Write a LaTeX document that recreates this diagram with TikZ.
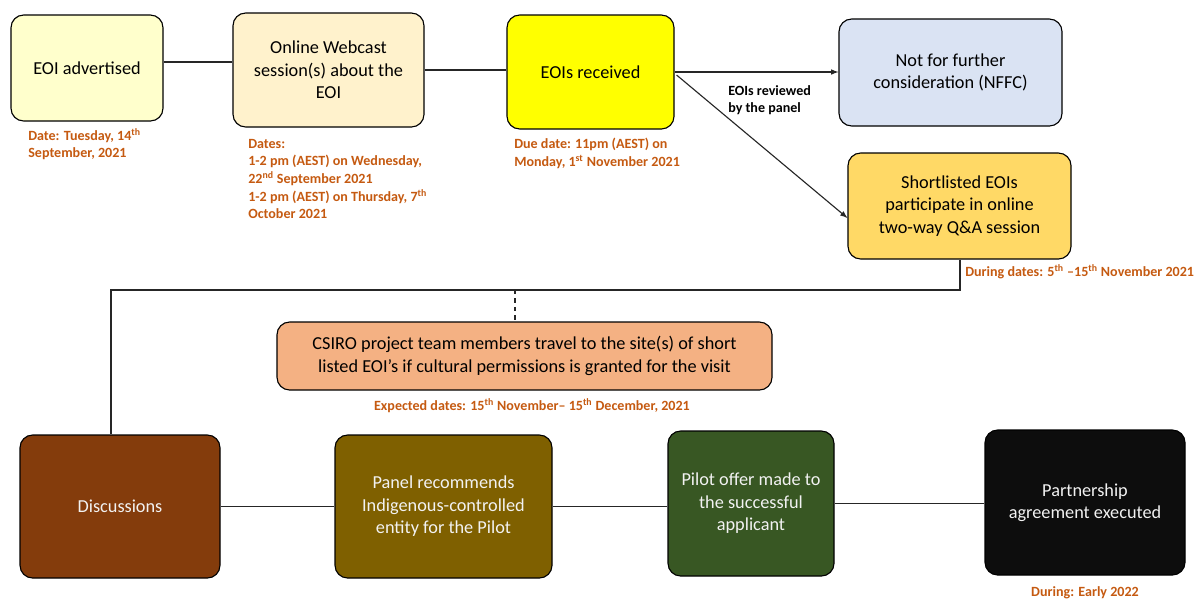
\documentclass[tikz,border=0pt]{standalone}
\usepackage{fontspec}
\setmainfont{Carlito}
\usepackage{xcolor}
\usetikzlibrary{arrows, calc}

\definecolor{advfill}{HTML}{FFFFCC}
\definecolor{webfill}{HTML}{FFF2CC}
\definecolor{recvfill}{HTML}{FFFF00}
\definecolor{nffcfill}{HTML}{DAE3F3}
\definecolor{shortfill}{HTML}{FFD966}
\definecolor{csirofill}{HTML}{F4B183}
\definecolor{discfill}{HTML}{843C0C}
\definecolor{panelfill}{HTML}{7F6000}
\definecolor{pilotfill}{HTML}{385723}
\definecolor{partfill}{HTML}{0D0D0D}
\definecolor{dateorange}{HTML}{C55A11}

\def\px{0.025cm}

\begin{document}
\begin{tikzpicture}[x=\px, y=-\px, >=latex,
	stage/.style 2 args={draw=black, line width=0.8pt, rounded corners=9pt, inner sep=0pt, align=center, font=\fontsize{13}{16}\selectfont, minimum width=#1*\px, minimum height=#2*\px},
	darkstage/.style 2 args={stage={#1}{#2}, text=white!95!black},
	datenote/.style={text=dateorange, font=\bfseries\fontsize{10}{12.5}\selectfont, align=left, anchor=north west, inner sep=0pt},
	link/.style={draw=black!85, line width=0.8pt}]

	\useasboundingbox (0,0) rectangle (1200,601);

	% top row
	\node[stage={152}{106}, fill=advfill] (adv) at (87,68) {EOI advertised};
	\node[stage={191}{114}, fill=webfill] (web) at (328.5,70) {Online Webcast\\session(s) about the\\EOI};
	\node[stage={167}{114}, fill=recvfill] (recv) at (590.5,72) {EOIs received};
	\node[stage={223}{107}, fill=nffcfill] (nffc) at (950.5,72.5) {Not for further\\consideration (NFFC)};
	\node[stage={223}{106}, fill=shortfill] (short) at (959.5,206) {Shortlisted EOIs\\participate in online\\two-way Q\&A session};

	% middle
	\node[stage={495}{68}, fill=csirofill] (csiro) at (524.5,356) {CSIRO project team members travel to the site(s) of short\\listed EOI’s if cultural permissions is granted for the visit};

	% bottom row
	\node[darkstage={200}{143}, fill=discfill] (disc) at (120,506.5) {Discussions};
	\node[darkstage={217}{143}, fill=panelfill] (panel) at (443.5,506.5) {Panel recommends\\Indigenous-controlled\\entity for the Pilot};
	\node[darkstage={166}{145}, fill=pilotfill] (pilot) at (751,503.5) {Pilot offer made to\\the successful\\applicant};
	\node[darkstage={200}{145}, fill=partfill] (part) at (1085,502.5) {Partnership\\agreement executed};

	% dates
	\node[datenote] (advdate) at (28,128) {Date: Tuesday, 14\textsuperscript{th}\\September, 2021};
	\node[datenote] (webdate) at (248,139) {Dates:\\1-2 pm (AEST) on Wednesday,\\22\textsuperscript{nd} September 2021\\1-2 pm (AEST) on Thursday, 7\textsuperscript{th}\\October 2021};
	\node[datenote] (recvdate) at (514,138) {Due date: 11pm (AEST) on\\Monday, 1\textsuperscript{st} November 2021};
	\node[datenote] (shortdate) at (965,264) {During dates: 5\textsuperscript{th} –15\textsuperscript{th} November 2021};
	\node[datenote, anchor=north] (csirodate) at (532,398) {Expected dates: 15\textsuperscript{th} November– 15\textsuperscript{th} December, 2021};
	\node[datenote, anchor=north] (partdate) at (1085,586) {During: Early 2022};
	\node[datenote, text=black] (review) at (728,85) {EOIs reviewed\\by the panel};

	% connectors
	\draw[link] (adv.east |- 0,62) -- (web.west |- 0,62);
	\draw[link] (web.east) -- (web.east -| recv.west);
	\draw[link, ->] (recv.east) -- (recv.east -| nffc.west);
	\draw[link, ->] ($(recv.east)+(2,3)$) -- ($(short.west)+(0,12)$);
	\coordinate (bend) at (960,290);
	\draw[link] (short.south -| bend) -- (bend) -- (bend -| 111,0) -- (disc.north -| 111,0);
	\draw[link, dashed] (515,290) -- (csiro.north -| 515,0);
	\foreach \a/\b in {disc/panel, panel/pilot, pilot/part}
		\draw[link] (\a.east) -- (\a.east -| \b.west);
\end{tikzpicture}
\end{document}
